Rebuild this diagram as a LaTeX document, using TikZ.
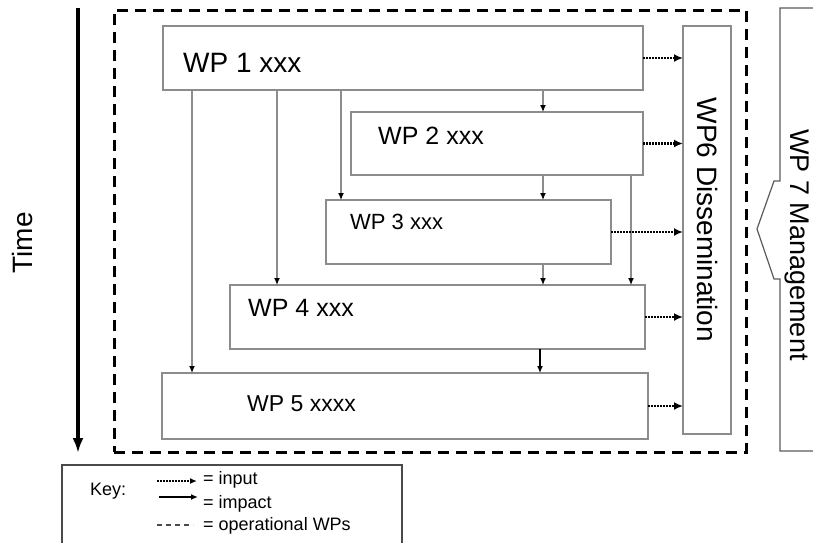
\documentclass[tikz,border=0pt]{standalone}
\usepackage{fontspec}
\setmainfont{Liberation Sans}
\usepackage{xcolor}
\usepackage{tikz}
\usetikzlibrary{arrows.meta,positioning,calc}
\definecolor{FrameGrey}{HTML}{8C8C8C}
\definecolor{KeyGrey}{HTML}{4A4A4A}
\definecolor{MgmtGrey}{HTML}{5A5A5A}
\newcommand{\wpbox}[5]{%
  \node[wpframe,anchor=north west,minimum width=#4pt,minimum height=#5pt] (#1) at (#2,#3) {};%
}

\begin{document}
\begin{tikzpicture}[x=1pt,y=-1pt,
    wpframe/.style={draw=FrameGrey,line width=1.2pt,fill=white,inner sep=0pt,outer sep=0pt},
    wplabel/.style={anchor=west,inner sep=0pt,font=\fontsize{#1}{#1}\selectfont},
    opframe/.style={draw=black,line width=3pt,dash pattern=on 11pt off 7pt,inner sep=0pt,outer sep=0pt},
    impact/.style={-{Latex[length=7pt,width=6pt,color=black]},FrameGrey,line width=1.3pt},
    input/.style={-{Latex[length=9pt,width=8pt]},black,line width=2.2pt,dash pattern=on 1.8pt off 1.2pt},
    keytext/.style={anchor=west,inner sep=0pt,font=\fontsize{18}{18}\selectfont}]
    \useasboundingbox (0,0) rectangle (813,542);
    % time axis
    \coordinate (timetop) at (78,8);
    \coordinate (timeend) at (78,453);
    \draw[-{Latex[length=15pt,width=11pt]},line width=3.2pt] (timetop) -- (timeend);
    \node[rotate=90,font=\fontsize{28}{28}\selectfont] (timelabel) at (22,243) {Time};
    % operational WPs
    \node[opframe,anchor=north west,minimum width=632pt,minimum height=442pt] (ops) at (114,10) {};
    \wpbox{wp1}{163}{26}{480}{64}
    \wpbox{wp2}{351}{112}{292}{63}
    \wpbox{wp3}{326}{200}{285}{64}
    \wpbox{wp4}{230}{285}{415}{64}
    \wpbox{wp5}{162}{373}{486}{66}
    \wpbox{wp6}{683}{26}{48}{408}
    \node[wplabel=28] (wp1text) at ([xshift=20pt,yshift=-5pt]wp1.west) {WP 1 xxx};
    \node[wplabel=25] (wp2text) at ([xshift=27pt,yshift=8pt]wp2.west) {WP 2 xxx};
    \node[wplabel=22] (wp3text) at ([xshift=24pt,yshift=10pt]wp3.west) {WP 3 xxx};
    \node[wplabel=25] (wp4text) at ([xshift=18pt,yshift=9pt]wp4.west) {WP 4 xxx};
    \node[wplabel=23] (wp5text) at ([xshift=85pt,yshift=2pt]wp5.west) {WP 5 xxxx};
    \node[rotate=-90,inner sep=0pt,font=\fontsize{28}{28}\selectfont] (wp6text) at (707,220) {WP6 Dissemination};
    % impact
    \draw[impact] (543,0 |- wp1.south) -- (543,0 |- wp2.north);
    \draw[impact] (543,0 |- wp2.south) -- (543,0 |- wp3.north);
    \draw[impact] (543,0 |- wp3.south) -- (543,0 |- wp4.north);
    \draw[impact,black] (540,0 |- wp4.south) -- (540,0 |- wp5.north);
    \draw[impact] (341,0 |- wp1.south) -- (341,0 |- wp3.north);
    \draw[impact] (277,0 |- wp1.south) -- (277,0 |- wp4.north);
    \draw[impact] (192,0 |- wp1.south) -- (192,0 |- wp5.north);
    \draw[impact] (631,0 |- wp2.south) -- (631,0 |- wp4.north);
    % input
    \draw[input] (wp1.east) -- (wp1.east -| wp6.west);
    \draw[input] (wp2.east) -- (wp2.east -| wp6.west);
    \draw[input] (wp3.east) -- (wp3.east -| wp6.west);
    \draw[input] (wp4.east) -- (wp4.east -| wp6.west);
    \draw[input] (wp5.east) -- (wp5.east -| wp6.west);
    % management
    \draw[MgmtGrey,line width=1.2pt] (830,8) -- (780,8) -- (780,181) -- (774,181) -- (757,229)
        -- (774,279) -- (780,279) -- (780,451) -- (830,451);
    \node[rotate=-90,inner sep=0pt,font=\fontsize{27}{27}\selectfont] (wp7text) at (797,245) {WP 7 Management};
    % key
    \node[draw=KeyGrey,line width=1.5pt,anchor=north west,minimum width=340pt,minimum height=100pt,
          inner sep=0pt,outer sep=0pt] (key) at (62,465) {};
    \node[keytext] (keylabel) at (90,491) {Key:};
    \coordinate (inputa) at (157,481);
    \coordinate (inputb) at (197,481);
    \coordinate (impacta) at (159,497);
    \coordinate (impactb) at (198,497);
    \coordinate (opsa) at (157,525);
    \coordinate (opsb) at (193,525);
    \draw[input,line width=1.6pt,-{Latex[length=7pt,width=6pt]}] (inputa) -- (inputb);
    \draw[-{Latex[length=7pt,width=6pt]},line width=1.4pt] (impacta) -- (impactb);
    \draw[KeyGrey,line width=1.4pt,dash pattern=on 5pt off 4pt] (opsa) -- (opsb);
    \node[keytext] (inputtext) at (203,480) {= input};
    \node[keytext] (impacttext) at (203,504) {= impact};
    \node[keytext] (opstext) at (203,526) {= operational WPs};
  \end{tikzpicture}
\end{document}
